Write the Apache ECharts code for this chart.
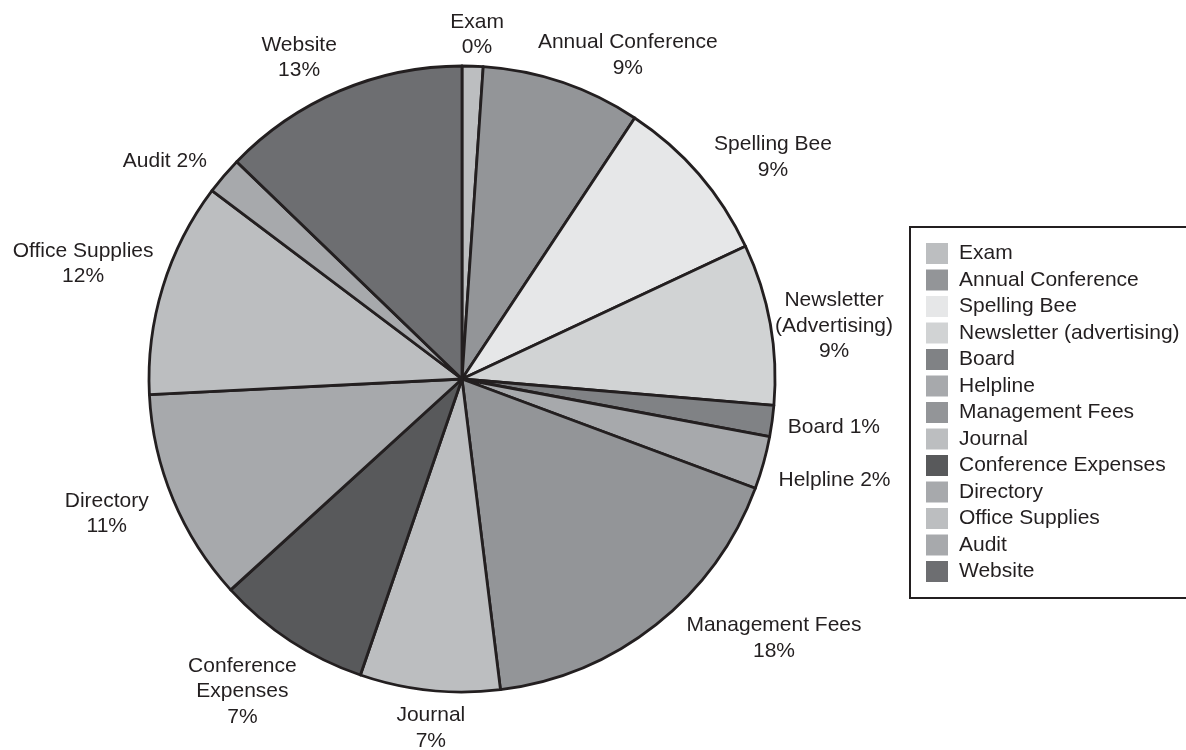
<!DOCTYPE html>
<html>
<head>
<meta charset="utf-8">
<script src="https://cdn.jsdelivr.net/npm/echarts@6/dist/echarts.min.js"></script>
<style>
html,body{margin:0;padding:0;background:#fff;}
#chart{width:1186px;height:750px;}
</style>
</head>
<body>
<div id="chart"></div>
<script>
// ---- data ----
const categories = ["Exam","Annual Conference","Spelling Bee","Newsletter (advertising)","Board","Helpline","Management Fees","Journal","Conference Expenses","Directory","Office Supplies","Audit","Website"];
const values = [1.08, 8.22, 8.72, 8.31, 1.61, 2.72, 17.36, 7.22, 7.97, 10.97, 11.06, 1.94, 12.78];
const labelNames = ["Exam","Annual Conference","Spelling Bee","Newsletter\n(Advertising)","Board","Helpline","Management Fees","Journal","Conference\nExpenses","Directory","Office Supplies","Audit","Website"];
const shownPercents = [0, 9, 9, 9, 1, 2, 18, 7, 7, 11, 12, 2, 13];
const inlineLabel = [false,false,false,false,true,true,false,false,false,false,false,true,false];

// ---- styling / layout ----
const colors = ["#bcbec0","#939598","#e6e7e8","#d1d3d4","#808285","#a7a9ac","#939598","#bcbec0","#58595b","#a7a9ac","#bcbec0","#a7a9ac","#6d6e71"];
const CX = 462, CY = 379, R = 313;
// label placement: [angle (deg, clockwise from 12 o'clock), distance from pie centre]
const labelSpots = [[2.5,344.8],[27.1,364],[54.5,382],[81.9,375.8],[97.4,375],[105.2,386],[129.7,405.5],[185.1,350.4],[215.1,381.9],[249.2,380],[286.9,396],[306.3,368.7],[333.1,360]];
const ink = "#231f20";
const font = "'Liberation Sans', Arial, Helvetica, sans-serif";

const chart = echarts.init(document.getElementById('chart'), null, {renderer:'canvas'});
chart.setOption({
  animation: false,
  backgroundColor: '#fff',
  legend: {
    orient: 'vertical',
    left: 910, top: 227,
    padding: [16, 20, 16, 16],
    borderColor: ink, borderWidth: 2,
    itemWidth: 22, itemHeight: 21, itemGap: 5.5,
    icon: 'rect',
    selectedMode: false,
    itemStyle: {borderWidth: 0},
    textStyle: {color: ink, fontSize: 21, fontFamily: font, lineHeight: 21, padding: [0,0,0,6]},
    data: categories
  },
  series: [{
    type: 'pie',
    center: [CX, CY],
    radius: [0, R],
    startAngle: 90,
    clockwise: true,
    avoidLabelOverlap: false,
    itemStyle: {borderColor: ink, borderWidth: 2.8},
    label: {
      show: true,
      position: 'outside',
      color: ink, fontSize: 21, fontFamily: font, lineHeight: 25.5,
      formatter: p => labelNames[p.dataIndex] + (inlineLabel[p.dataIndex] ? ' ' : '\n') + shownPercents[p.dataIndex] + '%'
    },
    labelLine: {show: false},
    labelLayout: p => {
      const s = labelSpots[p.dataIndex];
      const a = s[0] * Math.PI / 180;
      return {x: CX + s[1] * Math.sin(a), y: CY - s[1] * Math.cos(a), align: 'center', verticalAlign: 'middle'};
    },
    emphasis: {disabled: true},
    data: categories.map((c, i) => ({name: c, value: values[i], itemStyle: {color: colors[i]}}))
  }]
});
</script>
</body>
</html>
